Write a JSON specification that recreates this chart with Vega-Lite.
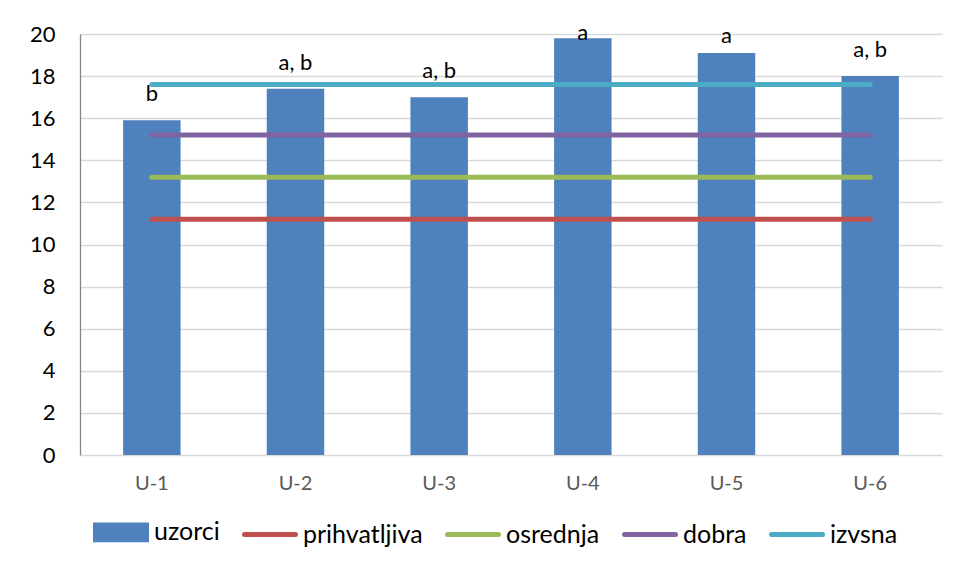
{
  "$schema": "https://vega.github.io/schema/vega-lite/v6.json",
  "autosize": {"type": "none"},
  "width": 862,
  "height": 421,
  "padding": {"left": 80, "top": 34, "right": 11, "bottom": 126},
  "background": "white",
  "config": {
    "view": {"stroke": null},
    "font": "Lato",
    "axis": {"labelFont": "Lato"},
    "legend": {"labelFont": "Lato"},
    "text": {"fontSize": 22, "baseline": "alphabetic", "color": "#000000", "font": "Lato"}
  },
  "data": {
    "values": [
      {"cat": "U-1", "series": "uzorci", "value": 15.9, "label": "b"},
      {"cat": "U-2", "series": "uzorci", "value": 17.4, "label": "a, b"},
      {"cat": "U-3", "series": "uzorci", "value": 17.0, "label": "a, b"},
      {"cat": "U-4", "series": "uzorci", "value": 19.8, "label": "a"},
      {"cat": "U-5", "series": "uzorci", "value": 19.1, "label": "a"},
      {"cat": "U-6", "series": "uzorci", "value": 18.0, "label": "a, b"},
      {"cat": "U-1", "series": "prihvatljiva", "value": 11.2},
      {"cat": "U-2", "series": "prihvatljiva", "value": 11.2},
      {"cat": "U-3", "series": "prihvatljiva", "value": 11.2},
      {"cat": "U-4", "series": "prihvatljiva", "value": 11.2},
      {"cat": "U-5", "series": "prihvatljiva", "value": 11.2},
      {"cat": "U-6", "series": "prihvatljiva", "value": 11.2},
      {"cat": "U-1", "series": "osrednja", "value": 13.2},
      {"cat": "U-2", "series": "osrednja", "value": 13.2},
      {"cat": "U-3", "series": "osrednja", "value": 13.2},
      {"cat": "U-4", "series": "osrednja", "value": 13.2},
      {"cat": "U-5", "series": "osrednja", "value": 13.2},
      {"cat": "U-6", "series": "osrednja", "value": 13.2},
      {"cat": "U-1", "series": "dobra", "value": 15.2},
      {"cat": "U-2", "series": "dobra", "value": 15.2},
      {"cat": "U-3", "series": "dobra", "value": 15.2},
      {"cat": "U-4", "series": "dobra", "value": 15.2},
      {"cat": "U-5", "series": "dobra", "value": 15.2},
      {"cat": "U-6", "series": "dobra", "value": 15.2},
      {"cat": "U-1", "series": "izvsna", "value": 17.6},
      {"cat": "U-2", "series": "izvsna", "value": 17.6},
      {"cat": "U-3", "series": "izvsna", "value": 17.6},
      {"cat": "U-4", "series": "izvsna", "value": 17.6},
      {"cat": "U-5", "series": "izvsna", "value": 17.6},
      {"cat": "U-6", "series": "izvsna", "value": 17.6}
    ]
  },
  "encoding": {
    "x": {
      "field": "cat",
      "type": "nominal",
      "sort": null,
      "scale": {"paddingInner": 0.6, "paddingOuter": 0.3},
      "axis": {
        "title": null,
        "labelAngle": 0,
        "domain": false,
        "ticks": false,
        "labelFontSize": 20,
        "labelColor": "#595959",
        "labelPadding": 18
      }
    },
    "y": {
      "field": "value",
      "type": "quantitative",
      "scale": {"domain": [0, 20], "nice": false},
      "axis": {
        "title": null,
        "values": [0, 2, 4, 6, 8, 10, 12, 14, 16, 18, 20],
        "grid": true,
        "gridColor": "#D9D9D9",
        "gridWidth": 1.3,
        "domainColor": "#868686",
        "domainWidth": 1.3,
        "ticks": false,
        "tickSize": 0,
        "labelFontSize": 22,
        "labelColor": "#000000",
        "labelPadding": 25
      }
    }
  },
  "layer": [
    {
      "transform": [{"filter": "datum.series === 'uzorci'"}],
      "mark": {"type": "bar"},
      "encoding": {
        "color": {
          "field": "series",
          "type": "nominal",
          "scale": {
            "domain": ["uzorci", "prihvatljiva", "osrednja", "dobra", "izvsna"],
            "range": ["#4F81BD", "#C0504D", "#9BBB59", "#8064A2", "#4BACC6"]
          },
          "legend": {
            "title": null,
            "orient": "none",
            "legendX": 13,
            "legendY": 470,
            "direction": "horizontal",
            "labelFontSize": 25,
            "labelColor": "#000000",
            "labelOffset": 5,
            "columnPadding": 14,
            "symbolSize": 2601,
            "encode": {
              "symbols": {
                "update": {
                  "shape": {"signal": "datum.value === 'uzorci' ? 'M-1,-0.29H1V0.29H-1Z' : 'M-1,0H1'"},
                  "fill": {"signal": "datum.value === 'uzorci' ? '#4F81BD' : 'transparent'"},
                  "stroke": {"signal": "datum.value === 'uzorci' ? 'transparent' : scale('color', datum.value)"},
                  "strokeWidth": {"value": 5},
                  "strokeCap": {"value": "round"},
                  "opacity": {"value": 1}
                }
              }
            }
          }
        }
      }
    },
    {
      "transform": [{"filter": "datum.series !== 'uzorci'"}],
      "mark": {"type": "line", "strokeWidth": 5, "strokeCap": "round"},
      "encoding": {
        "color": {"field": "series", "type": "nominal"},
        "detail": {"field": "series"}
      }
    },
    {
      "transform": [{"filter": "datum.series === 'uzorci' && datum.value <= 19"}],
      "mark": {"type": "text", "dy": -19},
      "encoding": {"text": {"field": "label"}}
    },
    {
      "transform": [{"filter": "datum.series === 'uzorci' && datum.value > 19 && datum.value <= 19.5"}],
      "mark": {"type": "text", "dy": -10},
      "encoding": {"text": {"field": "label"}}
    },
    {
      "transform": [{"filter": "datum.series === 'uzorci' && datum.value > 19.5"}],
      "mark": {"type": "text", "dy": 2},
      "encoding": {"text": {"field": "label"}}
    }
  ]
}
